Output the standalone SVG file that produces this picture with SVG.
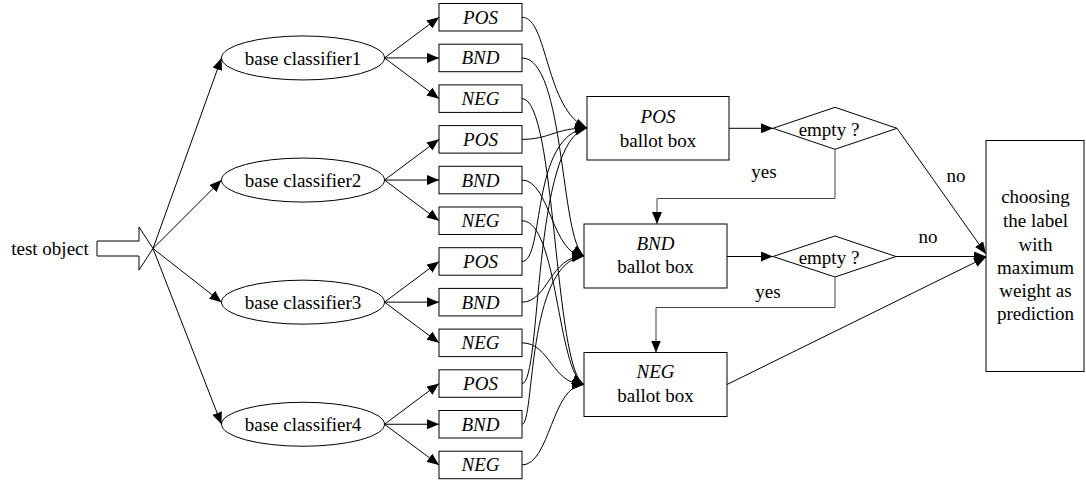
<svg xmlns="http://www.w3.org/2000/svg" width="1086" height="480" viewBox="0 0 1086 480">
  <style>
    .shape { fill: #fff; stroke: #000; stroke-width: 1; }
    .line { fill: none; stroke: #000; stroke-width: 1; }
    .yesline { fill: none; stroke: #444; stroke-width: 1; }
    .arrow { marker-end: url(#head); }
    text { font-family: "Liberation Serif", "Times New Roman", serif; font-size: 19px; fill: #000; text-anchor: middle; }
    .it { font-style: italic; }
  </style>
  <defs>
    <marker id="head" viewBox="0 0 12 10" refX="12" refY="5" markerWidth="12" markerHeight="10" markerUnits="userSpaceOnUse" orient="auto">
      <path d="M0,0 L12,5 L0,10 Z" fill="#000"/>
    </marker>
  </defs>

  <!-- input -->
  <g id="test-object">
    <text x="50" y="255">test object</text>
    <path class="shape" d="M97,241 H139 V227 L153,248.5 L139,270 V256 H97 Z"/>
  </g>

  <!-- base classifiers -->
  <g id="classifier1"><ellipse class="shape" cx="303" cy="57.95" rx="81.5" ry="22"/><text x="303" y="64.5">base classifier1</text></g>
  <g id="classifier2"><ellipse class="shape" cx="303" cy="180.05" rx="81.5" ry="22"/><text x="303" y="186.6">base classifier2</text></g>
  <g id="classifier3"><ellipse class="shape" cx="303" cy="302.15" rx="81.5" ry="22"/><text x="303" y="308.7">base classifier3</text></g>
  <g id="classifier4"><ellipse class="shape" cx="303" cy="424.25" rx="81.5" ry="22"/><text x="303" y="430.8">base classifier4</text></g>

  <!-- per-classifier decision regions -->
  <g id="c1-pos"><rect class="shape" x="439" y="3.5" width="83" height="27.5"/><text class="it" x="480.5" y="23.75">POS</text></g>
  <g id="c1-bnd"><rect class="shape" x="439" y="44.2" width="83" height="27.5"/><text class="it" x="480.5" y="64.45">BND</text></g>
  <g id="c1-neg"><rect class="shape" x="439" y="84.9" width="83" height="27.5"/><text class="it" x="480.5" y="105.15">NEG</text></g>
  <g id="c2-pos"><rect class="shape" x="439" y="125.6" width="83" height="27.5"/><text class="it" x="480.5" y="145.85">POS</text></g>
  <g id="c2-bnd"><rect class="shape" x="439" y="166.3" width="83" height="27.5"/><text class="it" x="480.5" y="186.55">BND</text></g>
  <g id="c2-neg"><rect class="shape" x="439" y="207" width="83" height="27.5"/><text class="it" x="480.5" y="227.25">NEG</text></g>
  <g id="c3-pos"><rect class="shape" x="439" y="247.7" width="83" height="27.5"/><text class="it" x="480.5" y="267.95">POS</text></g>
  <g id="c3-bnd"><rect class="shape" x="439" y="288.4" width="83" height="27.5"/><text class="it" x="480.5" y="308.65">BND</text></g>
  <g id="c3-neg"><rect class="shape" x="439" y="329.1" width="83" height="27.5"/><text class="it" x="480.5" y="349.35">NEG</text></g>
  <g id="c4-pos"><rect class="shape" x="439" y="369.8" width="83" height="27.5"/><text class="it" x="480.5" y="390.05">POS</text></g>
  <g id="c4-bnd"><rect class="shape" x="439" y="410.5" width="83" height="27.5"/><text class="it" x="480.5" y="430.75">BND</text></g>
  <g id="c4-neg"><rect class="shape" x="439" y="451.2" width="83" height="27.5"/><text class="it" x="480.5" y="471.45">NEG</text></g>

  <!-- ballot boxes -->
  <g id="pos-ballot"><rect class="shape" x="587" y="96.5" width="142" height="63.5"/><text class="it" x="658" y="123.3">POS</text><text x="658" y="146.7">ballot box</text></g>
  <g id="bnd-ballot"><rect class="shape" x="584" y="224" width="143" height="64"/><text class="it" x="655.5" y="250">BND</text><text x="655.5" y="273.3">ballot box</text></g>
  <g id="neg-ballot"><rect class="shape" x="584" y="352.5" width="143" height="64"/><text class="it" x="655.5" y="378.3">NEG</text><text x="655.5" y="401.7">ballot box</text></g>

  <!-- checks -->
  <g id="pos-empty"><path class="shape" d="M773,128.3 L835,107.3 L897,128.3 L835,149.3 Z"/><text x="829" y="136">empty ?</text></g>
  <g id="bnd-empty"><path class="shape" d="M773,256.5 L835,236 L896,256.5 L835,277 Z"/><text x="829" y="263.5">empty ?</text></g>

  <!-- final decision -->
  <g id="prediction">
    <rect class="shape" x="986" y="140.5" width="98" height="231"/>
    <text x="1035.5" y="203.3">choosing</text>
    <text x="1035.5" y="227.3">the label</text>
    <text x="1035.5" y="250.7">with</text>
    <text x="1035.5" y="274">maximum</text>
    <text x="1035.5" y="297">weight as</text>
    <text x="1035.5" y="320.3">prediction</text>
  </g>

  <!-- connectors -->
  <g id="connectors">
    <!-- input to classifiers -->
    <line class="line arrow" x1="153" y1="248.5" x2="221.5" y2="57.95"/>
    <line class="line arrow" x1="153" y1="248.5" x2="221.5" y2="180.05"/>
    <line class="line arrow" x1="153" y1="248.5" x2="221.5" y2="302.15"/>
    <line class="line arrow" x1="153" y1="248.5" x2="221.5" y2="424.25"/>

    <!-- classifiers to regions -->
    <line class="line arrow" x1="384.5" y1="57.95" x2="439" y2="17.25"/>
    <line class="line arrow" x1="384.5" y1="57.95" x2="439" y2="57.95"/>
    <line class="line arrow" x1="384.5" y1="57.95" x2="439" y2="98.65"/>
    <line class="line arrow" x1="384.5" y1="180.05" x2="439" y2="139.35"/>
    <line class="line arrow" x1="384.5" y1="180.05" x2="439" y2="180.05"/>
    <line class="line arrow" x1="384.5" y1="180.05" x2="439" y2="220.75"/>
    <line class="line arrow" x1="384.5" y1="302.15" x2="439" y2="261.45"/>
    <line class="line arrow" x1="384.5" y1="302.15" x2="439" y2="302.15"/>
    <line class="line arrow" x1="384.5" y1="302.15" x2="439" y2="342.85"/>
    <line class="line arrow" x1="384.5" y1="424.25" x2="439" y2="383.55"/>
    <line class="line arrow" x1="384.5" y1="424.25" x2="439" y2="424.25"/>
    <line class="line arrow" x1="384.5" y1="424.25" x2="439" y2="464.95"/>

    <!-- regions to POS ballot box -->
    <path class="line arrow" d="M522,17.25 C548,17.25 545,110 587,128"/>
    <path class="line arrow" d="M522,139.35 C550,139.35 555,128 587,128"/>
    <path class="line arrow" d="M522,261.45 C545,261.45 530,135 587,128"/>
    <path class="line arrow" d="M522,383.55 C542,383.55 532,140 587,128"/>
    <!-- regions to BND ballot box -->
    <path class="line arrow" d="M522,57.95 C565,57.95 560,240 584,256"/>
    <path class="line arrow" d="M522,180.05 C550,180.05 552,256 584,256"/>
    <path class="line arrow" d="M522,302.15 C548,302.15 550,256 584,256"/>
    <path class="line arrow" d="M522,424.25 C535,424.25 526,262 584,256"/>
    <!-- regions to NEG ballot box -->
    <path class="line arrow" d="M522,98.65 C556,98.65 554,370 584,384.5"/>
    <path class="line arrow" d="M522,220.75 C558,220.75 557,372 584,384.5"/>
    <path class="line arrow" d="M522,342.85 C550,342.85 552,384.5 584,384.5"/>
    <path class="line arrow" d="M522,464.95 C550,464.95 552,384.5 584,384.5"/>

    <!-- ballot boxes to checks -->
    <line class="line arrow" x1="729" y1="128.3" x2="773" y2="128.3"/>
    <line class="line arrow" x1="727" y1="256.5" x2="773" y2="256.5"/>

    <!-- yes branches -->
    <path class="yesline arrow" d="M835,149.3 V198.5 H657 V224"/>
    <path class="yesline arrow" d="M835,277 V307.5 H656 V352.5"/>
    <text x="764" y="178">yes</text>
    <text x="768" y="297.5">yes</text>

    <!-- no branches and NEG result -->
    <line class="line arrow" x1="897" y1="128.3" x2="986" y2="254"/>
    <line class="line arrow" x1="896" y1="256.5" x2="986" y2="256.5"/>
    <line class="line arrow" x1="727" y1="384.5" x2="986" y2="257"/>
    <text x="956" y="182">no</text>
    <text x="928" y="243">no</text>
  </g>
</svg>
